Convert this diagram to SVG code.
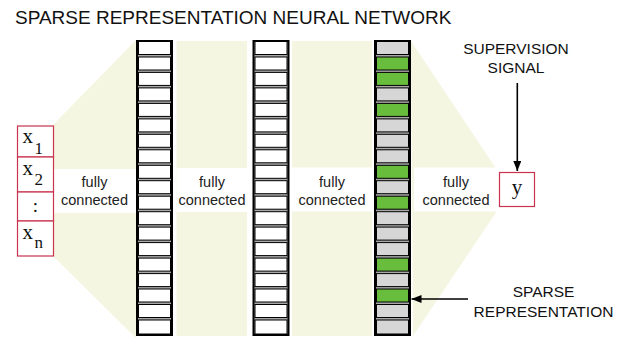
<svg xmlns="http://www.w3.org/2000/svg" width="624" height="339" viewBox="0 0 624 339">
<defs>
<style>
.band{fill:#f5f6e1;stroke:none}
.gap{fill:#ffffff;stroke:none}
.col{fill:#a8a8a8;stroke:#000;stroke-width:2}
.cell{fill:#fff;stroke:#000;stroke-width:1}
.g{fill:#d6d6d6}
.on{fill:#69bd3c}
.lbl{font-family:"Liberation Sans",Arial,sans-serif;font-size:14.5px;fill:#222;text-anchor:middle}
.cap{font-family:"Liberation Sans",Arial,sans-serif;font-size:15.5px;fill:#111;text-anchor:middle}
.box{fill:#fff;stroke:#c9334e;stroke-width:1.2}
.mono{font-family:"Liberation Serif","Times New Roman",serif;fill:#111}
.wire{stroke:#000;stroke-width:1.6;fill:none}
</style>
<marker id="ah" viewBox="0 0 10 8" refX="10" refY="4" markerWidth="10" markerHeight="8" markerUnits="userSpaceOnUse" orient="auto">
<path d="M0,0 L10,4 L0,8 Z" fill="#000"/>
</marker>
</defs>
<rect width="624" height="339" fill="#fff"/>
<text x="15" y="23.5" font-family="Liberation Sans,Arial,sans-serif" font-size="19" fill="#111">SPARSE REPRESENTATION NEURAL NETWORK</text>

<g id="bands">
<polygon class="band" points="53,125 136,40 136,338 53,256"/>
<rect class="band" x="176.5" y="41" width="70.5" height="295"/>
<rect class="band" x="292" y="41" width="80" height="295"/>
<polygon class="band" points="411,41 497,170 497,211 413,336"/>
<rect class="gap" x="53" y="169" width="83" height="44"/>
<rect class="gap" x="176.5" y="168" width="70.5" height="44"/>
<rect class="gap" x="292" y="167.5" width="80.5" height="44"/>
<rect class="gap" x="414" y="167.5" width="83" height="44"/>
</g>

<g id="input">
<rect class="box" x="17.5" y="126" width="36" height="31"/>
<rect class="box" x="17.5" y="157" width="36" height="35"/>
<rect class="box" x="17.5" y="192" width="36" height="29"/>
<rect class="box" x="17.5" y="221" width="36" height="35"/>
<text class="mono" x="22.5" y="143" font-size="21">x<tspan font-size="17" dx="1.5" dy="11">1</tspan></text>
<text class="mono" x="22.5" y="175" font-size="21">x<tspan font-size="17" dx="1.5" dy="10">2</tspan></text>
<text class="mono" x="35.5" y="212" font-size="19" text-anchor="middle">:</text>
<text class="mono" x="22.5" y="239" font-size="21">x<tspan font-size="17" dx="1.5" dy="9">n</tspan></text>
</g>

<g id="layer1">
<rect class="col" x="137" y="41" width="35" height="294"/>
<g class="cell">
<rect x="138.5" y="41.5" width="32" height="13"/><rect x="138.5" y="57" width="32" height="13"/><rect x="138.5" y="72.4" width="32" height="13"/><rect x="138.5" y="87.9" width="32" height="13"/><rect x="138.5" y="103.4" width="32" height="13"/><rect x="138.5" y="118.9" width="32" height="13"/><rect x="138.5" y="134.3" width="32" height="13"/><rect x="138.5" y="149.8" width="32" height="13"/><rect x="138.5" y="165.3" width="32" height="13"/><rect x="138.5" y="180.7" width="32" height="13"/><rect x="138.5" y="196.2" width="32" height="13"/><rect x="138.5" y="211.7" width="32" height="13"/><rect x="138.5" y="227.1" width="32" height="13"/><rect x="138.5" y="242.6" width="32" height="13"/><rect x="138.5" y="258.1" width="32" height="13"/><rect x="138.5" y="273.6" width="32" height="13"/><rect x="138.5" y="289" width="32" height="13"/><rect x="138.5" y="304.5" width="32" height="13"/><rect x="138.5" y="320" width="32" height="14"/>
</g>
</g>

<g id="layer2">
<rect class="col" x="253.5" y="41" width="35" height="294"/>
<g class="cell">
<rect x="255" y="41.5" width="32" height="13"/><rect x="255" y="57" width="32" height="13"/><rect x="255" y="72.4" width="32" height="13"/><rect x="255" y="87.9" width="32" height="13"/><rect x="255" y="103.4" width="32" height="13"/><rect x="255" y="118.9" width="32" height="13"/><rect x="255" y="134.3" width="32" height="13"/><rect x="255" y="149.8" width="32" height="13"/><rect x="255" y="165.3" width="32" height="13"/><rect x="255" y="180.7" width="32" height="13"/><rect x="255" y="196.2" width="32" height="13"/><rect x="255" y="211.7" width="32" height="13"/><rect x="255" y="227.1" width="32" height="13"/><rect x="255" y="242.6" width="32" height="13"/><rect x="255" y="258.1" width="32" height="13"/><rect x="255" y="273.6" width="32" height="13"/><rect x="255" y="289" width="32" height="13"/><rect x="255" y="304.5" width="32" height="13"/><rect x="255" y="320" width="32" height="14"/>
</g>
</g>

<g id="sparse-layer">
<rect class="col" x="375" y="41" width="35" height="294"/>
<g class="cell">
<rect class="g" x="376.5" y="41.5" width="32" height="13"/><rect class="on" x="376.5" y="57" width="32" height="13"/><rect class="on" x="376.5" y="72.4" width="32" height="13"/><rect class="g" x="376.5" y="87.9" width="32" height="13"/><rect class="on" x="376.5" y="103.4" width="32" height="13"/><rect class="g" x="376.5" y="118.9" width="32" height="13"/><rect class="g" x="376.5" y="134.3" width="32" height="13"/><rect class="g" x="376.5" y="149.8" width="32" height="13"/><rect class="on" x="376.5" y="165.3" width="32" height="13"/><rect class="g" x="376.5" y="180.7" width="32" height="13"/><rect class="on" x="376.5" y="196.2" width="32" height="13"/><rect class="g" x="376.5" y="211.7" width="32" height="13"/><rect class="g" x="376.5" y="227.1" width="32" height="13"/><rect class="g" x="376.5" y="242.6" width="32" height="13"/><rect class="on" x="376.5" y="258.1" width="32" height="13"/><rect class="g" x="376.5" y="273.6" width="32" height="13"/><rect class="on" x="376.5" y="289" width="32" height="13"/><rect class="g" x="376.5" y="304.5" width="32" height="13"/><rect class="g" x="376.5" y="320" width="32" height="14"/>
</g>
</g>

<g id="output">
<rect class="box" x="499.5" y="172.5" width="35" height="34"/>
<text class="mono" x="517" y="194" font-size="21" text-anchor="middle">y</text>
</g>

<g id="labels">
<text class="lbl" x="94.5" y="186.5">fully</text><text class="lbl" x="94.5" y="204.5">connected</text>
<text class="lbl" x="212" y="186.5">fully</text><text class="lbl" x="212" y="204.5">connected</text>
<text class="lbl" x="332" y="186.5">fully</text><text class="lbl" x="332" y="204.5">connected</text>
<text class="lbl" x="456" y="186.5">fully</text><text class="lbl" x="456" y="204.5">connected</text>
<text class="cap" x="516" y="54">SUPERVISION</text><text class="cap" x="516" y="73.3">SIGNAL</text>
<text class="cap" x="543.5" y="297.3">SPARSE</text><text class="cap" x="543.5" y="317.3">REPRESENTATION</text>
</g>

<g id="connectors">
<line class="wire" x1="517.3" y1="83" x2="517.3" y2="171" marker-end="url(#ah)"/>
<line class="wire" x1="468" y1="299" x2="411.5" y2="299" marker-end="url(#ah)"/>
</g>
</svg>
